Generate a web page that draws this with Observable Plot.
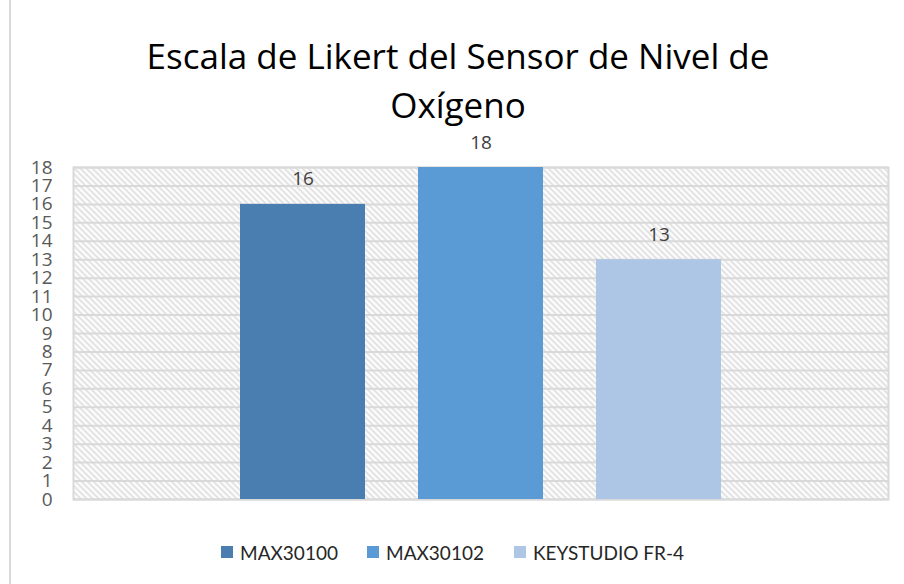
<!DOCTYPE html>
<html>
<head>
<meta charset="utf-8">
<script src="https://cdn.jsdelivr.net/npm/d3@7"></script>
<script src="https://cdn.jsdelivr.net/npm/@observablehq/plot@0.6"></script>
<style>
  html, body { margin: 0; padding: 0; background: #fff; }
  #wrap { position: relative; width: 904px; height: 584px; overflow: hidden; font-family: Lato, "Open Sans", sans-serif; }
  #border { position: absolute; left: 9px; top: 0; width: 2px; height: 584px; background: #d9d9d9; }
  #title { padding-top: 31px; padding-left: 12px; width: 892px; text-align: center; font-family: "Open Sans", sans-serif; font-size: 35px; line-height: 49px; color: #000; height: 99px; }
  #chart { height: 385px; }
  #legend { position: relative; height: 24px; margin-top: 25px; font-size: 19px; color: #262626; }
  .item { position: absolute; top: 0; display: flex; align-items: center; height: 24px; white-space: nowrap; }
  .sw { width: 12px; height: 12px; margin-right: 7px; }
</style>
</head>
<body>
<div id="wrap">
  <div id="border"></div>
  <div id="title">Escala de Likert del Sensor de Nivel de<br>Oxígeno</div>
  <div id="chart"></div>
  <div id="legend"></div>
</div>
<script>
const series = ["MAX30100", "MAX30102", "KEYSTUDIO FR-4"];
const values = [16, 18, 13];
const yTicks = [0, 1, 2, 3, 4, 5, 6, 7, 8, 9, 10, 11, 12, 13, 14, 15, 16, 17, 18];
const colors = ["#4a7eb0", "#5a9ad5", "#adc6e6"];

const data = series.map((s, i) => ({name: s, value: values[i]}));

const chart = Plot.plot({
  width: 904,
  height: 385,
  marginLeft: 73,
  marginRight: 16,
  marginTop: 37,
  marginBottom: 16,
  style: {fontFamily: "'Open Sans', Lato, sans-serif", background: "transparent"},
  x: {domain: series, paddingInner: 0.3, paddingOuter: 0.933, align: 0.5, axis: null},
  y: {domain: [0, 18], axis: null},
  color: {domain: series, range: colors},
  marks: [
    Plot.frame({fill: "url(#hatch)", stroke: "none"}),
    Plot.gridY(yTicks, {stroke: "#d9d9d9", strokeOpacity: 1, strokeWidth: 2}),
    Plot.frame({stroke: "#d9d9d9", strokeWidth: 2}),
    Plot.barY(data, {x: "name", y: "value", fill: "name"}),
    Plot.text(data, {x: "name", y: "value", text: d => String(d.value), dy: -25, fontSize: 19, fill: "#404040"}),
    Plot.axisY(yTicks, {tickSize: 0, tickPadding: 21, fontSize: 19, fill: "#595959", label: null, tickFormat: d => String(d)})
  ]
});

const ns = "http://www.w3.org/2000/svg";
const defs = document.createElementNS(ns, "defs");
const pat = document.createElementNS(ns, "pattern");
pat.setAttribute("id", "hatch");
pat.setAttribute("patternUnits", "userSpaceOnUse");
pat.setAttribute("width", "6");
pat.setAttribute("height", "6");
const bg = document.createElementNS(ns, "rect");
bg.setAttribute("width", "6");
bg.setAttribute("height", "6");
bg.setAttribute("fill", "#ffffff");
pat.appendChild(bg);
const p = document.createElementNS(ns, "path");
p.setAttribute("d", "M-1,-1 L7,7 M-1,5 L1,7 M5,-1 L7,1");
p.setAttribute("stroke", "#dcdcdc");
p.setAttribute("stroke-width", "1.7");
pat.appendChild(p);
defs.appendChild(pat);
chart.insertBefore(defs, chart.firstChild);

document.getElementById("chart").appendChild(chart);

const legendLeft = [221, 367, 514];
const legend = document.getElementById("legend");
series.forEach((s, i) => {
  const it = document.createElement("div");
  it.className = "item";
  it.style.left = legendLeft[i] + "px";
  const sw = document.createElement("div");
  sw.className = "sw";
  sw.style.background = colors[i];
  const t = document.createElement("span");
  t.textContent = s;
  it.appendChild(sw);
  it.appendChild(t);
  legend.appendChild(it);
});
</script>
</body>
</html>
